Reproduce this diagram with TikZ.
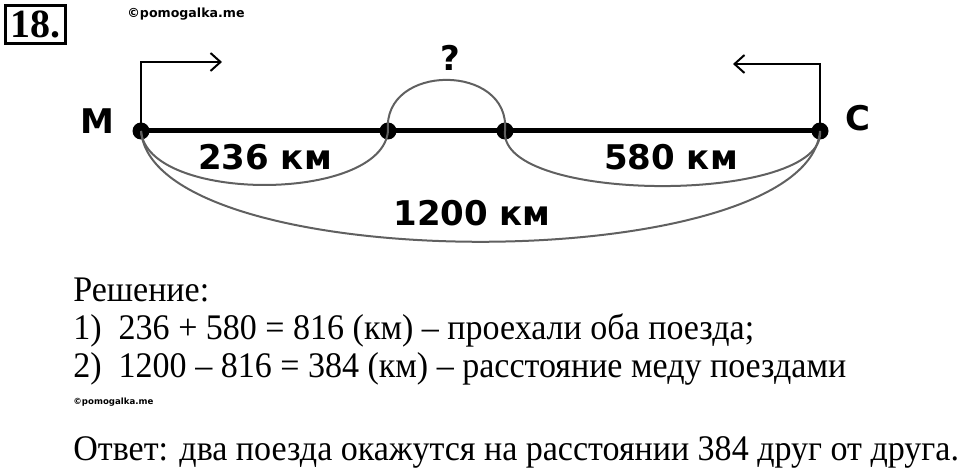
\documentclass[tikz,border=0pt]{standalone}
\usepackage{fontspec}
\setmainfont{Liberation Serif}
\setsansfont{DejaVu Sans}
\newfontfamily\solfont[FakeStretch=0.945]{Liberation Serif}
\usetikzlibrary{arrows.meta}

\tikzset{
  dot/.style={circle, fill=black, inner sep=0pt, minimum size=8.5pt},
  lbl/.style={font=\sffamily\bfseries\fontsize{17}{20}\selectfont},
  arc/.style={draw=gray!75!black, line width=1pt},
  turn/.style={line width=1pt, -{Straight Barb[length=5pt, width=9pt]}},
  sol/.style={anchor=base west, inner sep=0pt, font=\solfont\fontsize{18}{22}\selectfont}
}

\begin{document}
\begin{tikzpicture}[x=0.5pt, y=-0.5pt] % one unit is one pixel
            \useasboundingbox (0,0) rectangle (960,470);
            % Number of the task in a box
            \node[draw, line width=1.5pt, minimum width=30pt, minimum height=19pt, inner sep=0pt,
                  font=\bfseries\fontsize{20}{20}\selectfont] (num) at (35.5,24.5) {18.};
            \node[font=\sffamily\bfseries\fontsize{6.3}{7}\selectfont] (wm1) at (186,14) {©pomogalka.me};

            % Points on the road
            \node[dot] (M) at (141,131) {};
            \node[dot] (A) at (388,131) {};
            \node[dot] (B) at (505,131) {};
            \node[dot] (C) at (820,131) {};
            \draw[line width=2.5pt] (M.center) -- (C.center);
            \node[lbl] (mlab) at (97,121) {M};
            \node[lbl] (clab) at (858,118) {C};

            % Trains set off towards each other
            \coordinate (mEnd) at (222,62);
            \coordinate (cEnd) at (733,64);
            \draw[turn] (M.center) |- (mEnd);
            \draw[turn] (C.center) |- (cEnd);

            % Arcs for the distances
            \draw[arc] (M.center) to[out=-85, in=-95, looseness=0.75] (A.center);
            \draw[arc] (A.center) to[out=95, in=85, looseness=1.5] (B.center);
            \draw[arc] (B.center) to[out=-95, in=-85, looseness=0.6] (C.center);
            \draw[arc] (M.center) to[out=-85, in=-95, looseness=0.56] (C.center);
            \node[lbl] (d1) at (265,157) {236 км};
            \node[lbl] (q) at (450,58) {?};
            \node[lbl] (d2) at (671,157) {580 км};
            \node[lbl] (d3) at (472,213) {1200 км};

            % Solution
            \node[sol] (s0) at (73,302) {Решение:};
            \node[sol] (s1) at (73,340) {1)\ \ 236 + 580 = 816 (км) – проехали оба поезда;};
            \node[sol] (s2) at (73,378) {2)\ \ 1200 – 816 = 384 (км) – расстояние меду поездами};
            \node[anchor=base west, inner sep=0pt, font=\sffamily\bfseries\fontsize{4.3}{5}\selectfont] (wm2) at (73,405) {©pomogalka.me};
            \node[sol] (ans) at (73,461) {Ответ: два поезда окажутся на расстоянии 384 друг от друга.};
\end{tikzpicture}
\end{document}
